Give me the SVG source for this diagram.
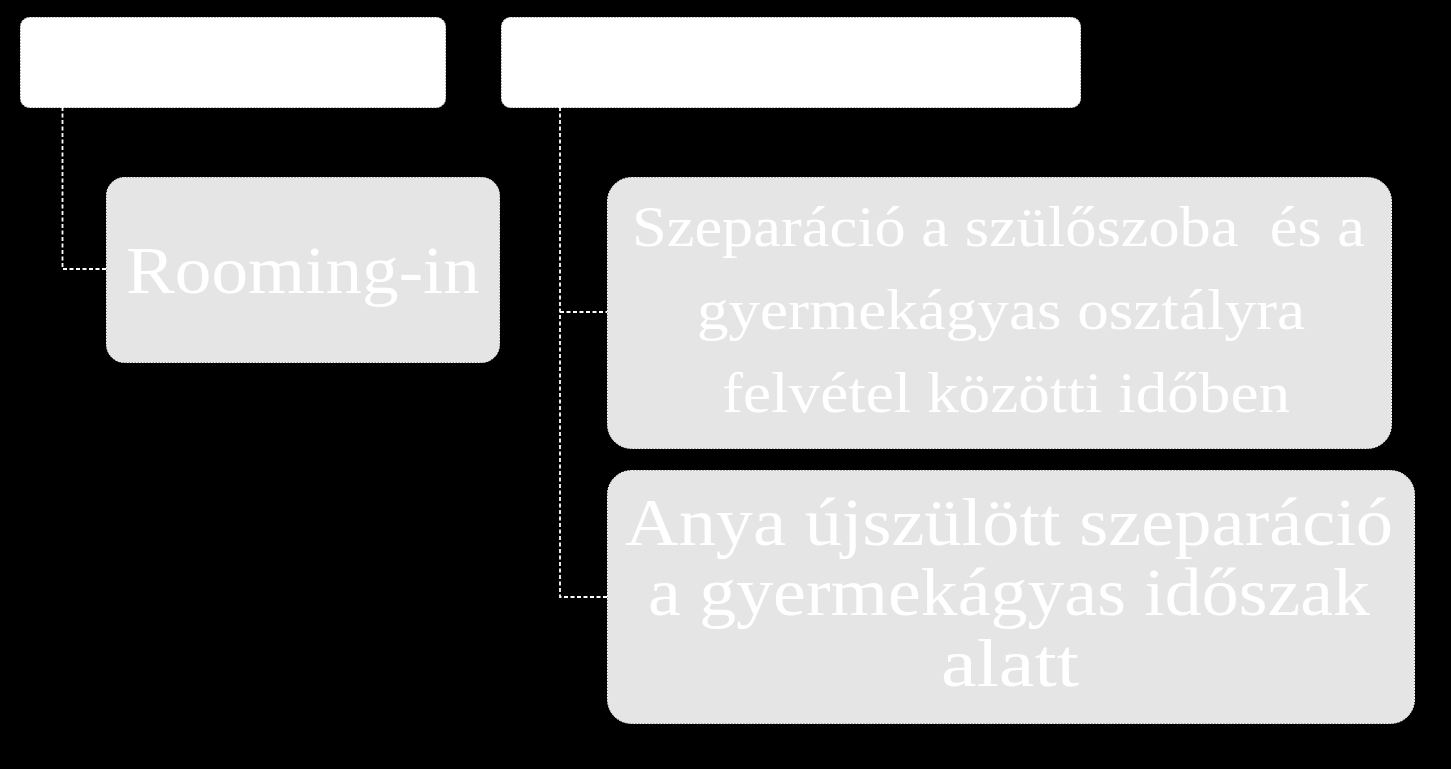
<svg xmlns="http://www.w3.org/2000/svg" width="1451" height="769" viewBox="0 0 1451 769">
<style>
.top{fill:#ffffff;stroke:#ffffff;stroke-width:1;stroke-dasharray:2 1}
.sub{fill:#e5e5e5;stroke:#ffffff;stroke-width:1;stroke-dasharray:2 1}
.lbl{font-family:"Liberation Serif","DejaVu Serif",serif;fill:#ffffff;text-anchor:start;white-space:pre}
.conn{fill:none;stroke:#ffffff;stroke-width:1.8;stroke-dasharray:4 2.5}
</style>
<rect width="1451" height="769" fill="#000000"/>
<g id="connectors">
<path class="conn" d="M62.5,107 V269 H106"/>
<path class="conn" d="M560,107 V597 H607"/>
<path class="conn" d="M560,312 H607"/>
</g>
<g id="node-top-left">
<rect class="top" x="20.5" y="17.5" width="425" height="90" rx="9"/>
</g>
<g id="node-top-right">
<rect class="top" x="501.5" y="17.5" width="579" height="90" rx="9"/>
</g>
<g id="node-rooming-in">
<rect class="sub" x="106.5" y="177.5" width="393" height="185" rx="18"/>
<text class="lbl" x="126" y="293" font-size="68" textLength="354" lengthAdjust="spacingAndGlyphs">Rooming-in</text>
</g>
<g id="node-szeparacio-szuloszoba">
<rect class="sub" x="607.5" y="177.5" width="784" height="271" rx="24"/>
<text class="lbl" font-size="57" xml:space="preserve"><tspan x="632" y="246" textLength="733" lengthAdjust="spacingAndGlyphs">Szeparáció a szülőszoba  és a</tspan><tspan x="697" y="329" textLength="608" lengthAdjust="spacingAndGlyphs">gyermekágyas osztályra</tspan><tspan x="722" y="412" textLength="568" lengthAdjust="spacingAndGlyphs">felvétel közötti időben</tspan></text>
</g>
<g id="node-anya-ujszulott">
<rect class="sub" x="607.5" y="470.5" width="807" height="253" rx="24"/>
<text class="lbl" font-size="68"><tspan x="625" y="545" textLength="768" lengthAdjust="spacingAndGlyphs">Anya újszülött szeparáció</tspan><tspan x="648" y="615" textLength="722" lengthAdjust="spacingAndGlyphs">a gyermekágyas időszak</tspan><tspan x="941" y="686" textLength="138" lengthAdjust="spacingAndGlyphs">alatt</tspan></text>
</g>
</svg>
